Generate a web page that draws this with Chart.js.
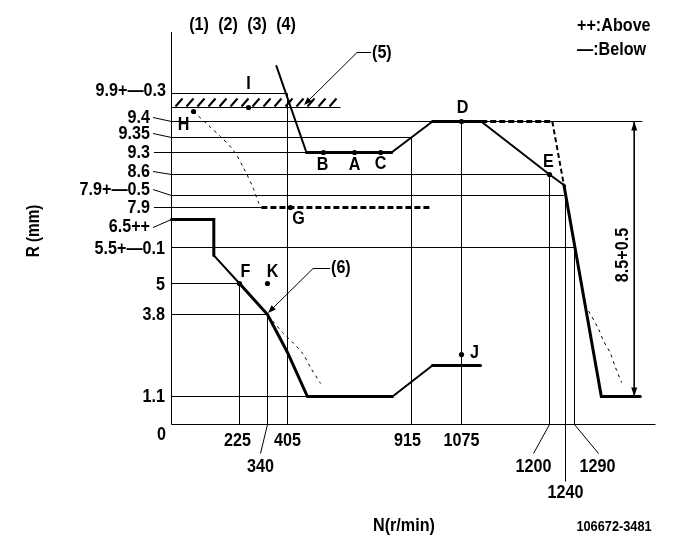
<!DOCTYPE html>
<html><head><meta charset="utf-8">
<script src="https://cdn.jsdelivr.net/npm/chart.js@4.4.1/dist/chart.umd.min.js"></script>
<style>html,body{margin:0;padding:0;background:#fff}canvas{display:block}</style>
</head><body>
<canvas id="c" width="681" height="549"></canvas>
<script>
// ---------------- DATA (N in r/min, R in mm) ----------------
const xTickValues = [225, 340, 405, 915, 1075, 1200, 1240, 1290];
const xTickLabels = ['225', '340', '405', '915', '1075', '1200', '1240', '1290'];
const yTickValues = [0, 1.1, 3.8, 5, 5.5, 6.5, 7.9, 8.4, 8.6, 9.3, 9.35, 9.4, 9.9];
const yTickLabels = ['0', '1.1', '3.8', '5', '5.5+\u20140.1', '6.5++', '7.9', '7.9+\u20140.5', '8.6', '9.3', '9.35', '9.4', '9.9+\u20140.3'];

// upper (governor / full-load) curve
const upperN = [369, 483, 833, 982, 1103, 1200, 1236, 1343, 1420];
const upperR = [10.17, 9.3, 9.3, 9.4, 9.4, 8.6, 8.5, 1.1, 1.1];
// alternative governor line (dashed)
const govAltN = [1103, 1207, 1236];
const govAltR = [9.4, 9.4, 8.5];
// lower (idle / start) curve
const lowerN = [0, 140, 140, 225, 340, 405, 487, 837, 982, 1102];
const lowerR = [6.5, 6.5, 5.39, 5, 3.8, 2.55, 1.1, 1.1, 2.12, 2.12];
// 7.9 dashed level
const level79N = [315, 979];
const level79R = [7.9, 7.9];
// thin dashed curves
const curveHN = [73, 122, 162, 205, 241, 282, 303, 315];
const curveHR = [9.543, 9.388, 9.353, 9.307, 8.82, 8.467, 8.108, 7.9];
const curve6N = [343, 350, 389, 430, 467, 500, 541];
const curve6R = [3.77, 3.67, 3.21, 2.85, 2.52, 2.05, 1.53];
const curveRN = [1318, 1337, 1347, 1361, 1371, 1383];
const curveRR = [3.93, 3.34, 2.94, 2.52, 2.05, 1.56];
// reference lines
const hRefR = [9.9, 9.6, 9.4, 9.35, 9.3, 8.6, 8.4, 7.9, 5.5, 5, 3.8, 1.1];
const hRefEndN = [405, 623, 1424, 915, 483, 1200, 1236, 315, 1290, 225, 340, 487];
const vRefN = [225, 340, 405, 915, 1075, 1200, 1240, 1290];
const vRefTopR = [5, 3.8, 9.9, 9.35, 9.4, 8.6, 8.5, 5.5];
// dimension 8.5+0.5
const dimN = 1408;
const dimR = [9.4, 1.1];
// labelled measuring points
const pointNames = ['I', 'H', 'B', 'A', 'C', 'D', 'E', 'F', 'K', 'G', 'J'];
const pointN = [262, 73, 553, 681, 788, 1075, 1200, 225, 340, 417, 1075];
const pointR = [9.6, 9.543, 9.3, 9.3, 9.3, 9.4, 8.6, 5, 5, 7.9, 2.48];
const hatchR = [9.6, 9.9];
const hatchEndN = 623;

// ---------------- SCHEMATIC AXES (chart is not to scale) ----------------
const AXIS_LEN = { x: 484, y: 392 };
const KNOTS = {
  x: [[0,0],[225,68],[340,96],[405,116],[915,240],[1075,290],[1200,378],[1240,394],[1290,403],[1450,484]],
  y: [[0,0],[1.1,28],[3.8,110],[5,141],[5.5,177],[6.5,205],[7.9,217],[8.4,229],[8.6,250],[9.3,272],[9.35,287],[9.4,303],[9.6,317],[9.9,331],[10.5,392]]
};
function interp(k, v, a, b) {
  let i = 0;
  while (i < k.length - 2 && v > k[i + 1][a]) i++;
  const p = k[i], q = k[i + 1];
  return p[b] + (v - p[a]) * (q[b] - p[b]) / (q[a] - p[a]);
}
class SchematicScale extends Chart.LinearScale {
  getPixelForValue(value) {
    const ax = this.isHorizontal() ? 'x' : 'y';
    const off = interp(KNOTS[ax], value, 0, 1);
    return this.getPixelForDecimal(off / AXIS_LEN[ax]) + 0.5;
  }
  getValueForPixel(pixel) {
    const ax = this.isHorizontal() ? 'x' : 'y';
    const off = this.getDecimalForPixel(pixel - 0.5) * AXIS_LEN[ax];
    return interp(KNOTS[ax], off, 1, 0);
  }
}
SchematicScale.id = 'schematic';
SchematicScale.defaults = Chart.LinearScale.defaults;
Chart.register(SchematicScale);

const zip = (n, r) => n.map((v, i) => ({ x: v, y: r[i] }));
const FF = '"Liberation Sans", Arial, sans-serif';

const datasets = [];
hRefR.forEach((r, i) => datasets.push({ data: zip([0, hRefEndN[i]], [r, r]), borderColor: '#000', borderWidth: 1 }));
vRefN.forEach((n, i) => datasets.push({ data: zip([n, n], [0, vRefTopR[i]]), borderColor: '#000', borderWidth: 1 }));
datasets.push({ data: zip([dimN, dimN], dimR), borderColor: '#000', borderWidth: 1 });
const upperW = [2, 3, 2, 3, 2, 2, 3, 3];
datasets.push({ data: zip(upperN, upperR), borderColor: '#000', borderWidth: 3, borderCapStyle: 'round', borderJoinStyle: 'miter',
  segment: { borderWidth: c => upperW[c.p0DataIndex] } });
const lowerW = [3, 3, 2, 3, 3, 3, 3, 2, 3];
datasets.push({ data: zip(lowerN, lowerR), borderColor: '#000', borderWidth: 3, borderCapStyle: 'round', borderJoinStyle: 'miter',
  segment: { borderWidth: c => lowerW[c.p0DataIndex] } });
datasets.push({ data: zip(govAltN, govAltR), borderColor: '#000', borderWidth: 3, borderDash: [6, 3],
  segment: { borderWidth: c => c.p0DataIndex === 0 ? 3 : 2, borderDash: c => c.p0DataIndex === 0 ? [6, 3] : [5, 3] } });
datasets.push({ data: zip(level79N, level79R), borderColor: '#000', borderWidth: 3, borderDash: [6, 3] });
[[curveHN, curveHR], [curve6N, curve6R], [curveRN, curveRR]].forEach(([n, r]) =>
  datasets.push({ data: zip(n, r), borderColor: '#000', borderWidth: 1, borderDash: [3, 4], tension: 0.3 }));
datasets.push({ data: zip(pointN, pointR), showLine: false, pointRadius: 2.6, pointBackgroundColor: '#000', pointBorderWidth: 0 });

function line(ctx, pts, w) {
  ctx.beginPath(); ctx.lineWidth = w || 1; ctx.setLineDash([]);
  ctx.moveTo(pts[0][0], pts[0][1]);
  for (let i = 1; i < pts.length; i++) ctx.lineTo(pts[i][0], pts[i][1]);
  ctx.stroke();
}
function head(ctx, tx, ty, fx, fy, len, hw) {
  const dx = tx - fx, dy = ty - fy, d = Math.hypot(dx, dy), ux = dx / d, uy = dy / d;
  const bx = tx - ux * len, by = ty - uy * len;
  ctx.beginPath(); ctx.moveTo(tx, ty);
  ctx.lineTo(bx - uy * hw, by + ux * hw); ctx.lineTo(bx + uy * hw, by - ux * hw);
  ctx.closePath(); ctx.fill();
}
// condensed bold text (reference uses a narrow gothic face)
function txt(ctx, s, x, y, align, size, rot) {
  ctx.save(); ctx.translate(x, y); if (rot) ctx.rotate(rot);
  ctx.scale(0.85, 1);
  ctx.font = 'bold ' + (size || 19) + 'px ' + FF; ctx.textAlign = align || 'center'; ctx.textBaseline = 'middle';
  ctx.fillText(s, 0, 0); ctx.restore();
}

// label layout: [right edge x, dy from level, leader: 0 none, 1 slanted, 2 horizontal]
const yLabelLayout = {
  '0': [166, 10, 0], '1.1': [165, 0, 0], '3.8': [165, 0, 0], '5': [165, 1, 0], '5.5': [165, 1, 0],
  '6.5': [150, 7, 1], '7.9': [150, 0, 2], '8.4': [150, -6, 1], '8.6': [150, -3, 1], '9.3': [150, 0, 2],
  '9.35': [150, -4, 1], '9.4': [150, -4, 1], '9.9': [166, -3, 0]
};
const xLabelLayout = { 225: [-2, 0], 340: [-7, 1], 405: [0, 0], 915: [-4, 0], 1075: [0, 0], 1200: [-16, 1], 1240: [0, 2], 1290: [23, 1] };
const pointLabelOffset = { I: [0, -24], H: [-10, 13], B: [-1, 12], A: [0, 12], C: [0, 11], D: [1, -14], E: [-1, -13], F: [6, -12], K: [5, -12], G: [8, 11], J: [13, -2] };

const annot = {
  id: 'annot',
  afterDatasetsDraw(chart) {
    const ctx = chart.ctx, xs = chart.scales.x, ys = chart.scales.y;
    const X = v => xs.getPixelForValue(v), Y = v => ys.getPixelForValue(v);
    ctx.save(); ctx.strokeStyle = '#000'; ctx.fillStyle = '#000';
    const x0 = X(0), y0 = Y(0);
    // axes
    line(ctx, [[x0, Y(10.5) - 0.5], [x0, y0], [X(1450), y0]]);
    // hatch (9.9-0.3 band)
    const hb = Y(hatchR[0]) - 1, ht = hb - 8;
    for (let x = x0 + 4; x + 7 <= X(hatchEndN); x += 11) line(ctx, [[x, hb], [x + 7, ht]], 2);
    // y labels
    yTickValues.forEach((v, i) => {
      const L = yLabelLayout[String(v)], py = Y(v);
      txt(ctx, yTickLabels[i], L[0], py + L[1], 'right');
      if (L[2] === 1) line(ctx, [[L[0] + 3, py + L[1] + (L[1] > 0 ? 1 : 0)], [x0, py]]);
      if (L[2] === 2) line(ctx, [[L[0] + 4, py], [x0, py]]);
    });
    // x labels
    const rowY = [16, 42, 68];
    xTickValues.forEach((v, i) => {
      const L = xLabelLayout[v], px = X(v);
      txt(ctx, xTickLabels[i], px + L[0], y0 + rowY[L[1]]);
      if (L[1] === 1) line(ctx, [[px, y0], [px + (L[0] > 0 ? L[0] + 1 : L[0]), y0 + 29]]);
      if (L[1] === 2) line(ctx, [[px, y0], [px, y0 + 57]]);
    });
    // point labels
    pointNames.forEach((n, i) => {
      const o = pointLabelOffset[n];
      txt(ctx, n, X(pointN[i]) + o[0], Y(pointR[i]) + o[1]);
    });
    // dimension arrows
    const dx = X(dimN), dt = Y(dimR[0]), db = Y(dimR[1]);
    head(ctx, dx, dt, dx, dt + 10, 9, 3);
    head(ctx, dx, db, dx, db - 10, 9, 3);
    txt(ctx, '8.5+0.5', dx - 11, (dt + db) / 2 - 4, 'center', 19, -Math.PI / 2);
    // (5) and (6) callouts
    line(ctx, [[371, 52.5], [357, 52.5], [307, 102]]);
    head(ctx, 304, 105, 357, 52.5, 8, 3);
    txt(ctx, '(5)', 372, 53, 'left');
    line(ctx, [[330, 268.5], [313, 268.5], [271, 310]]);
    head(ctx, 268, 313, 313, 268.5, 8, 3);
    txt(ctx, '(6)', 331, 268, 'left');
    // headers
    ['(1)', '(2)', '(3)', '(4)'].forEach((s, i) => txt(ctx, s, 199 + i * 29, 25));
    txt(ctx, '++:Above', 577, 26, 'left');
    txt(ctx, '\u2014:Below', 577, 50, 'left');
    txt(ctx, 'R (mm)', 34, 231, 'center', 18, -Math.PI / 2);
    txt(ctx, 'N(r/min)', 404, 526);
    txt(ctx, '106672-3481', 614, 527, 'center', 15);
    ctx.restore();
  }
};

new Chart(document.getElementById('c'), {
  type: 'line',
  data: { datasets },
  options: {
    responsive: false, animation: false, devicePixelRatio: 1, events: [],
    layout: { padding: { left: 171, top: 32, right: 26, bottom: 125 } },
    plugins: { legend: { display: false }, tooltip: { enabled: false } },
    elements: { point: { radius: 0 }, line: { tension: 0, fill: false } },
    scales: {
      x: { type: 'schematic', min: 0, max: 1450, display: false },
      y: { type: 'schematic', min: 0, max: 10.5, display: false }
    },
    clip: false
  },
  plugins: [annot]
});
</script>
</body></html>
